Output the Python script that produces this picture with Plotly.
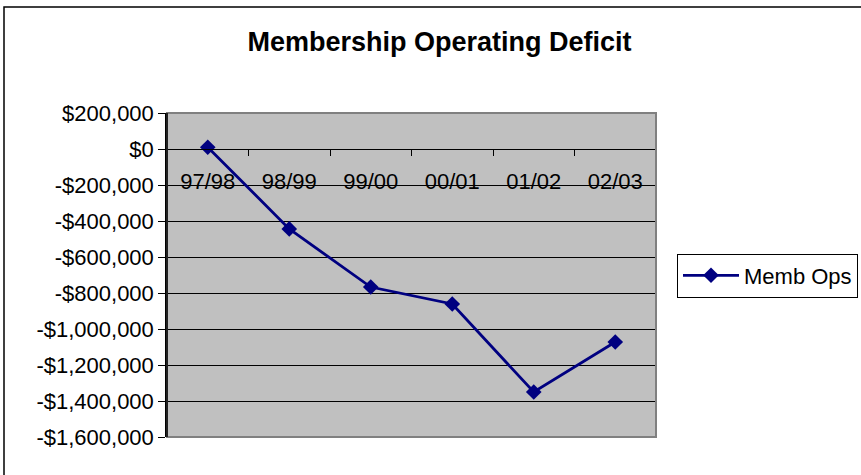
import plotly.graph_objects as go

categories = ["97/98", "98/99", "99/00", "00/01", "01/02", "02/03"]
memb_ops = [10000, -444000, -767000, -861000, -1350000, -1072000]
y_tick_vals = [200000, 0, -200000, -400000, -600000, -800000, -1000000, -1200000, -1400000, -1600000]
y_tick_text = ["$200,000", "$0", "-$200,000", "-$400,000", "-$600,000", "-$800,000",
               "-$1,000,000", "-$1,200,000", "-$1,400,000", "-$1,600,000"]

W, H = 861, 475
L, R, T, B = 167, 656, 113, 437
pw, ph = R - L, B - T

def px_x(x):
    return (x - L) / pw

def px_y(y):
    return (B - y) / ph

FONT = "Liberation Sans, Arial, sans-serif"

fig = go.Figure()
fig.add_trace(go.Scatter(
    x=categories, y=memb_ops, mode="lines+markers", name="Memb Ops",
    line=dict(color="#000080", width=2.8),
    marker=dict(symbol="diamond", size=12, color="#000080"),
))

fig.update_layout(
    width=W, height=H,
    margin=dict(l=L, r=W - R, t=T, b=H - B, autoexpand=False),
    paper_bgcolor="white", plot_bgcolor="#C0C0C0",
    font=dict(family=FONT, size=22, color="black"),
    title=dict(text="<b>Membership Operating Deficit</b>", font=dict(size=27, family=FONT),
               xref="paper", x=px_x(439.5), xanchor="center",
               yref="container", y=1 - 42 / H, yanchor="middle"),
    showlegend=True,
    legend=dict(x=px_x(677), xanchor="left", y=px_y(275.5), yanchor="middle",
                bordercolor="black", borderwidth=1, bgcolor="white",
                font=dict(size=22, family=FONT), itemwidth=56),
    xaxis=dict(type="category", range=[-0.5, 5.5], anchor="free", position=px_y(149),
               showline=True, linecolor="black", linewidth=1,
               ticks="outside", tickson="boundaries", ticklen=6, tickcolor="black",
               showgrid=False, zeroline=False, ticklabelstandoff=13,
               tickfont=dict(size=22, family=FONT)),
    yaxis=dict(range=[-1600000, 200000], tickvals=y_tick_vals, ticktext=y_tick_text,
               showline=True, linecolor="black", linewidth=1.5,
               ticks="outside", ticklen=7, tickcolor="black",
               showgrid=True, gridcolor="black", gridwidth=1,
               zeroline=True, zerolinecolor="black", zerolinewidth=1,
               tickfont=dict(size=22, family=FONT)),
    shapes=[
        dict(type="rect", xref="paper", yref="paper", x0=0, x1=1, y0=0, y1=1,
             line=dict(color="#808080", width=2), layer="above"),
        dict(type="line", xref="paper", yref="paper", x0=0, x1=0, y0=0, y1=1,
             line=dict(color="black", width=1.5), layer="above"),
        dict(type="rect", xref="paper", yref="paper",
             x0=px_x(4), x1=px_x(W + 20), y0=px_y(H + 20), y1=px_y(7),
             line=dict(color="black", width=1.5), layer="below"),
    ],
)

fig.write_html("out.html", config={"displayModeBar": False},
               post_script="document.body.style.margin='0';")
